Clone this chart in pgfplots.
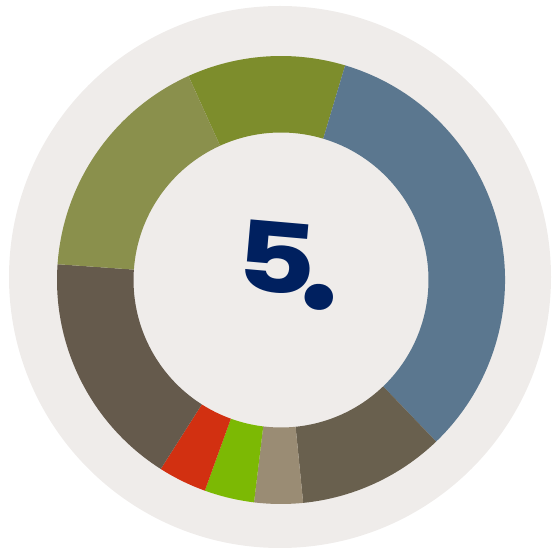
\documentclass[border=0pt]{standalone}
\usepackage{pgfplots}
\usepackage{pgfplotstable}
\pgfplotsset{compat=1.18}
\usepackage{fontspec}
\setmainfont{Poppins}
\definecolor{bgc}{HTML}{EFECEA}
\definecolor{cOlive}{HTML}{7D8D2C}
\definecolor{cBlue}{HTML}{5B778F}
\definecolor{cBrownB}{HTML}{69604E}
\definecolor{cTan}{HTML}{9A8C74}
\definecolor{cGreen}{HTML}{7CB904}
\definecolor{cRed}{HTML}{D23011}
\definecolor{cBrownA}{HTML}{655A4C}
\definecolor{cOliveL}{HTML}{8A904C}
\definecolor{navy}{HTML}{00205F}
\pgfplotstableread{
label value color
A 11.4 cOlive
B 33.2 cBlue
C 10.6 cBrownB
D 3.5 cTan
E 3.6 cGreen
F 3.5 cRed
G 17.1 cBrownA
H 17.1 cOliveL
}\donutdata
\begin{document}
\begin{tikzpicture}
\begin{axis}[
  x=1pt, y=1pt,
  xmin=-277, xmax=277, ymin=-277, ymax=277,
  hide axis, clip=false,
]
\pgfplotsextra{
  \path (axis cs:-277,-277) rectangle (axis cs:277,277);
  \fill[bgc] (axis cs:3,0) circle[radius=271pt];
  \xdef\ang{114.4}
  \pgfplotstableforeachcolumnelement{value}\of\donutdata\as\v{%
    \pgfplotstablegetelem{\pgfplotstablerow}{color}\of\donutdata
    \edef\col{\pgfplotsretval}%
    \pgfmathsetmacro\angb{\ang-3.6*\v}%
    \fill[\col, shift={(axis cs:4,-3)}] (\ang:224pt) arc[start angle=\ang, end angle=\angb, radius=224pt]
      -- (\angb:147.5pt) arc[start angle=\angb, end angle=\ang, radius=147.5pt] -- cycle;
    \xdef\ang{\angb}%
  }
  \node[text=navy, font=\bfseries\fontsize{97}{97}\selectfont, inner sep=0pt, anchor=base west, rotate=-5] at (axis cs:-44,-12) {\scalebox{1.28}[1]{5}\kern-14pt\raisebox{-13pt}{\fontsize{140}{140}\selectfont .}};
}
\end{axis}
\end{tikzpicture}
\end{document}
